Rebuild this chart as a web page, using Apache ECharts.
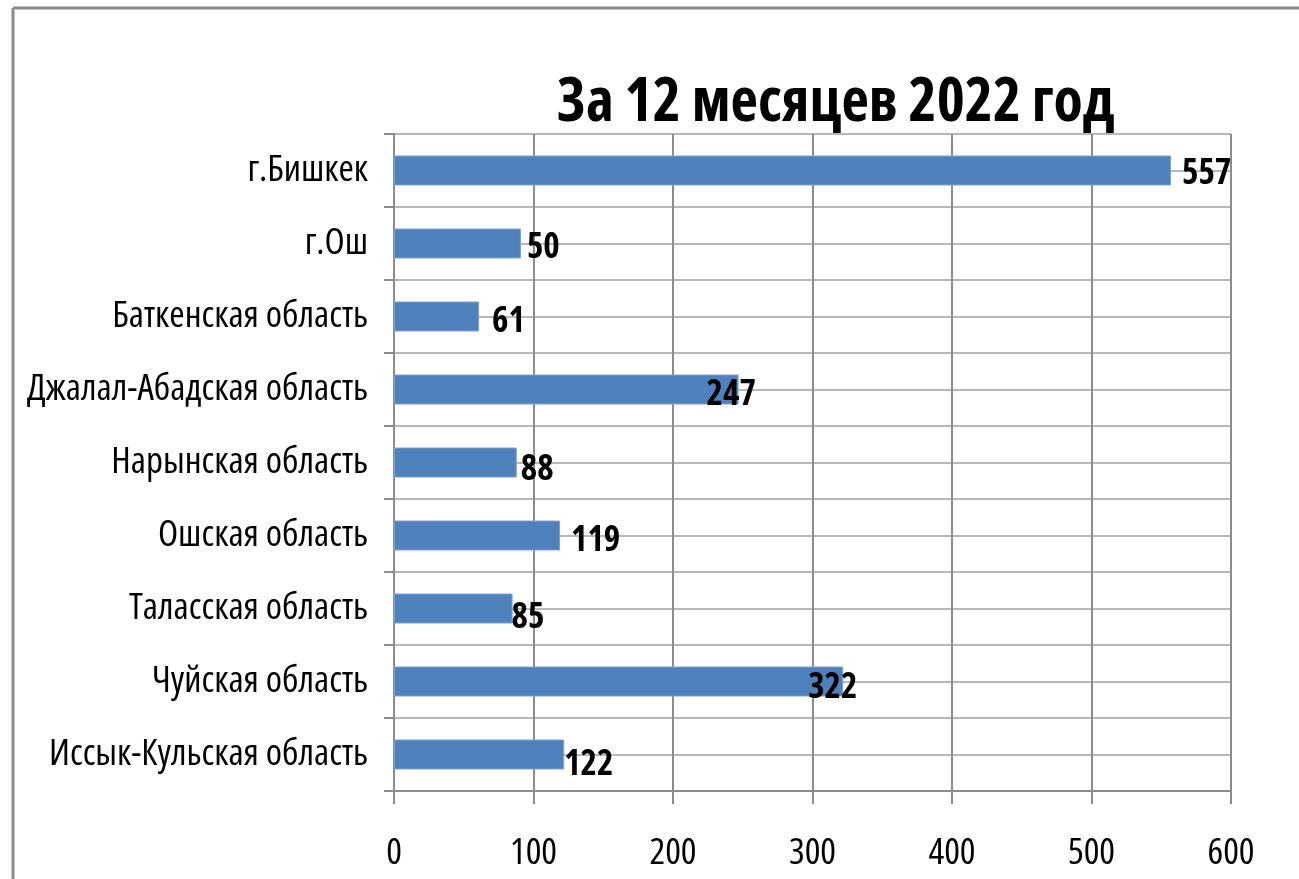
<!DOCTYPE html>
<html>
<head>
<meta charset="utf-8">
<script src="https://cdn.jsdelivr.net/npm/echarts@6/dist/echarts.min.js"></script>
<style>
    html, body {margin: 0; padding: 0; background: #fff;}
    #chart {width: 1299px; height: 879px;}
</style>
</head>
<body>
<div id="chart"></div>
<script>
    const categories = ['г.Бишкек', 'г.Ош', 'Баткенская область', 'Джалал-Абадская область', 'Нарынская область',
        'Ошская область', 'Таласская область', 'Чуйская область', 'Иссык-Кульская область'];
    // bar lengths as drawn; the г.Ош bar is drawn longer than its label says
    const barValues = [557, 91, 61, 247, 88, 119, 85, 322, 122];
    const labelValues = [557, 50, 61, 247, 88, 119, 85, 322, 122];

    // Open Sans is a variable font here, 'condensed' narrows it like the original Calibri
    const font = "'Open Sans', Carlito, sans-serif";
    const narrow = 'condensed';
    // label nudges [dx, dy] off the bar end, as placed in the original
    const labelShift = [[11, 4], [6, 5], [13, 6], [-32, 6], [4, 8], [11, 6], [-1, 10], [-35, 7], [0, 11]];

    const chart = echarts.init(document.getElementById('chart'));
    chart.setOption({
        animation: false,
        title: {
            text: 'За 12 месяцев 2022 год',
            left: 552,
            top: 69,
            textStyle: {fontFamily: font, fontStyle: narrow, fontSize: 60, fontWeight: 'bold', color: '#000'}
        },
        graphic: [
            {type: 'line', shape: {x1: 13, y1: 8, x2: 1299, y2: 8}, style: {stroke: '#8c8c8c', lineWidth: 3}},
            {type: 'line', shape: {x1: 13, y1: 8, x2: 13, y2: 879}, style: {stroke: '#8c8c8c', lineWidth: 3}}
        ],
        grid: {left: 394, right: 68, top: 134, bottom: 88, containLabel: false, outerBoundsMode: 'none'},
        xAxis: {
            type: 'value',
            min: 0,
            max: 600,
            interval: 100,
            axisLine: {show: true, lineStyle: {color: '#8c8c8c', width: 2}},
            axisTick: {show: true, length: 13, lineStyle: {color: '#8c8c8c', width: 2}},
            axisLabel: {margin: 44, fontSize: 37, color: '#000', fontFamily: font, fontStyle: narrow},
            splitLine: {show: true, lineStyle: {color: '#8c8c8c', width: 2}}
        },
        yAxis: [{
            type: 'category',
            data: categories,
            inverse: true,
            axisLine: {show: true, lineStyle: {color: '#8c8c8c', width: 2}},
            axisTick: {show: true, length: 10, lineStyle: {color: '#8c8c8c', width: 2}},
            axisLabel: {margin: 26, fontSize: 37, color: '#000', fontFamily: font, fontStyle: narrow},
            splitLine: {show: false}
        }, {
            // half-band gridlines: category boundaries plus bar centres
            type: 'category',
            data: categories.flatMap((c, i) => ['a' + i, 'b' + i]),
            inverse: true,
            position: 'left',
            axisLine: {show: false},
            axisTick: {show: false},
            axisLabel: {show: false},
            splitLine: {show: true, lineStyle: {color: '#b8b8b8', width: 2}}
        }],
        series: [{
            type: 'bar',
            yAxisIndex: 0,
            barWidth: 30,
            itemStyle: {color: '#4f81bd', borderColor: '#7ea1cf', borderWidth: 1},
            label: {
                show: true,
                position: 'right',
                distance: 0,
                fontSize: 35,
                fontWeight: 'bold',
                fontStyle: narrow,
                color: '#000',
                fontFamily: font,
                formatter: p => labelValues[p.dataIndex]
            },
            data: barValues.map((v, i) => ({value: v, label: {offset: labelShift[i]}}))
        }]
    });
</script>
</body>
</html>
